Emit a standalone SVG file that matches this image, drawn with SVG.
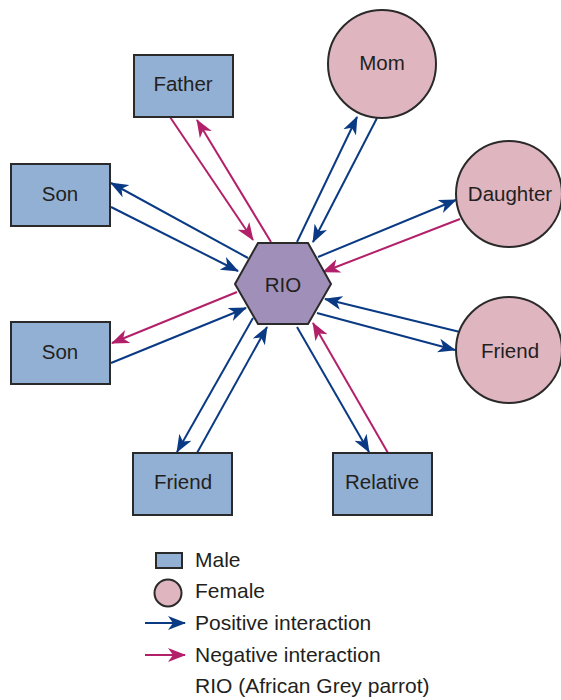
<svg xmlns="http://www.w3.org/2000/svg" width="561" height="700" viewBox="0 0 561 700">
<style>
.box{fill:#92b0d3;stroke:#2a2a2a;stroke-width:2}
.circ{fill:#dfb5c0;stroke:#2a2a2a;stroke-width:2}
.hex{fill:#a08fb8;stroke:#2a2a2a;stroke-width:2}
text{font-family:"Liberation Sans",Arial,sans-serif;font-size:20.5px;fill:#231f20}
.leg{font-size:21px}
.lbl{text-anchor:middle;dominant-baseline:central}
.pos{stroke:#0a3a84;stroke-width:2;fill:none;marker-end:url(#ab)}
.neg{stroke:#b3206a;stroke-width:2;fill:none;marker-end:url(#ap)}
</style>
<defs>
<marker id="ab" markerUnits="userSpaceOnUse" markerWidth="19" markerHeight="15" refX="17" refY="7" orient="auto" viewBox="0 0 19 14">
<path d="M0,0 L18,7 L0,14 L5,7 z" fill="#0a3a84"/>
</marker>
<marker id="ap" markerUnits="userSpaceOnUse" markerWidth="19" markerHeight="15" refX="17" refY="7" orient="auto" viewBox="0 0 19 14">
<path d="M0,0 L18,7 L0,14 L5,7 z" fill="#b3206a"/>
</marker>
</defs>
<g id="connectors">
<line class="neg" x1="170" y1="117" x2="253" y2="240"/>
<line class="neg" x1="271" y1="242" x2="197" y2="120"/>
<line class="pos" x1="248" y1="258" x2="111" y2="183"/>
<line class="pos" x1="111" y1="207" x2="238" y2="271"/>
<line class="neg" x1="237" y1="292" x2="112" y2="343"/>
<line class="pos" x1="111" y1="363" x2="246" y2="308"/>
<line class="pos" x1="253" y1="318" x2="177" y2="452"/>
<line class="pos" x1="197" y1="453" x2="267" y2="327"/>
<line class="pos" x1="297" y1="327" x2="369" y2="452"/>
<line class="neg" x1="388" y1="453" x2="313" y2="323"/>
<line class="pos" x1="460" y1="332" x2="325" y2="299"/>
<line class="pos" x1="317" y1="313" x2="455" y2="350"/>
<line class="pos" x1="318" y1="257" x2="456" y2="200"/>
<line class="neg" x1="460" y1="219" x2="323" y2="272"/>
<line class="pos" x1="297" y1="242" x2="357" y2="117"/>
<line class="pos" x1="377" y1="118" x2="313" y2="242"/>
</g>
<g id="rio">
<polygon class="hex" points="258,243 308,243 331,284 308,324 258,324 235,284"/>
<text class="lbl" x="283" y="284">RIO</text>
</g>
<g id="father">
<rect class="box" x="134" y="55" width="99" height="62"/>
<text class="lbl" x="183" y="83">Father</text>
</g>
<g id="son1">
<rect class="box" x="11" y="164" width="99" height="62"/>
<text class="lbl" x="60" y="193">Son</text>
</g>
<g id="son2">
<rect class="box" x="11" y="322" width="99" height="62"/>
<text class="lbl" x="60" y="351">Son</text>
</g>
<g id="friend1">
<rect class="box" x="133" y="453" width="99" height="62"/>
<text class="lbl" x="183" y="481">Friend</text>
</g>
<g id="relative">
<rect class="box" x="333" y="453" width="99" height="62"/>
<text class="lbl" x="382" y="481">Relative</text>
</g>
<g id="mom">
<circle class="circ" cx="382" cy="64" r="54"/>
<text class="lbl" x="382" y="62">Mom</text>
</g>
<g id="daughter">
<circle class="circ" cx="509" cy="194" r="53"/>
<text class="lbl" x="510" y="193">Daughter</text>
</g>
<g id="friend2">
<circle class="circ" cx="509" cy="350" r="53"/>
<text class="lbl" x="510" y="350">Friend</text>
</g>
<g id="legend">
<rect class="box" x="156" y="553" width="26" height="15"/>
<circle class="circ" cx="168" cy="593" r="13.5"/>
<line class="pos" x1="145" y1="623" x2="185" y2="623"/>
<line class="neg" x1="145" y1="655" x2="185" y2="655"/>
<text class="leg" x="195" y="567">Male</text>
<text class="leg" x="195" y="598">Female</text>
<text class="leg" x="195" y="630">Positive interaction</text>
<text class="leg" x="195" y="662">Negative interaction</text>
<text class="leg" x="195" y="693">RIO (African Grey parrot)</text>
</g>
</svg>
